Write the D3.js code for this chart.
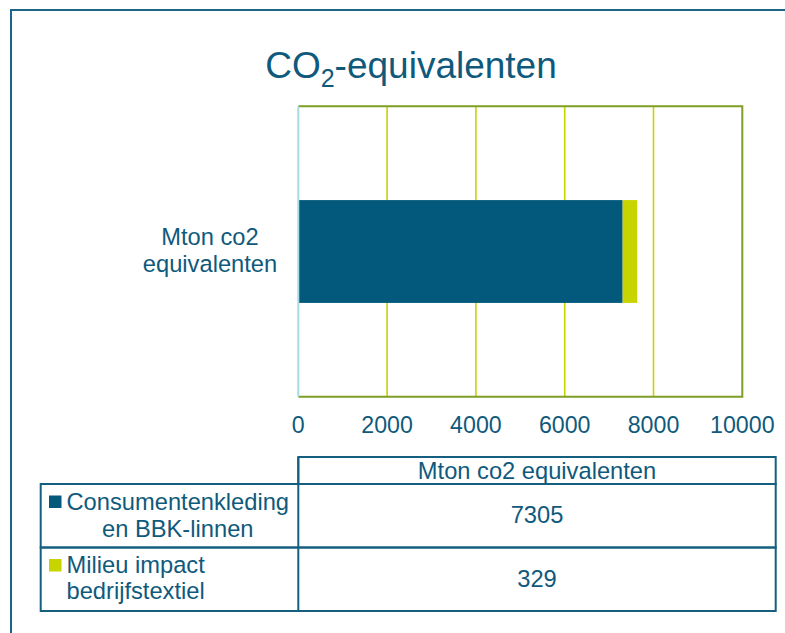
<!DOCTYPE html>
<html>
<head>
<meta charset="utf-8">
<script src="https://cdn.jsdelivr.net/npm/d3@7"></script>
<style>
  html, body { margin: 0; padding: 0; background: #fff; }
  svg { display: block; font-family: "Liberation Sans", Arial, sans-serif; }
</style>
</head>
<body>
<svg id="chart" width="785" height="633"></svg>
<script>
const categories = ["Mton co2 equivalenten"]
const seriesNames = ["Consumentenkleding en BBK-linnen", "Milieu impact bedrijfstextiel"]
const seriesValues = [7305, 329]
const xTicks = [0, 2000, 4000, 6000, 8000, 10000]

const TEXT = "#0f5a7c"
const BLUE = "#02597c"
const YELLOW = "#c8d400"
const FS = 23.7

const svg = d3.select("#chart")

// outer frame (runs off the right and bottom edges)
svg.append("rect")
  .attr("x", 11).attr("y", 10)
  .attr("width", 800).attr("height", 660)
  .attr("fill", "none").attr("stroke", "#1d6586").attr("stroke-width", 2)

// title with subscript
const title = svg.append("text")
  .attr("x", 411).attr("y", 78)
  .attr("text-anchor", "middle")
  .attr("fill", TEXT).attr("font-size", 37)
title.append("tspan").text("CO")
title.append("tspan").attr("font-size", 25).attr("dy", 9).text("2")
title.append("tspan").attr("dy", -9).text("-equivalenten")

const plot = { left: 298.3, right: 742.3, top: 106.3, bottom: 396.7 }

const x = d3.scaleLinear().domain([0, 10000]).range([plot.left, plot.right])
const y = d3.scaleBand().domain(categories).range([plot.top, plot.bottom]).padding(0.477)

// vertical gridlines
svg.append("g")
  .selectAll("line")
  .data(xTicks.filter((t) => t > 0 && t < 10000))
  .join("line")
  .attr("x1", (d) => x(d)).attr("x2", (d) => x(d))
  .attr("y1", plot.top).attr("y2", plot.bottom)
  .attr("stroke", YELLOW).attr("stroke-width", 1.6)

// stacked bar
let acc = 0
const stacks = seriesValues.map((v, i) => {
  const s = { name: seriesNames[i], x0: acc, x1: acc + v, color: i === 0 ? BLUE : YELLOW }
  acc += v
  return s
})
svg.append("g")
  .selectAll("rect")
  .data(stacks)
  .join("rect")
  .attr("x", (d) => x(d.x0))
  .attr("width", (d) => x(d.x1) - x(d.x0))
  .attr("y", y(categories[0]))
  .attr("height", y.bandwidth())
  .attr("fill", (d) => d.color)

// plot border: olive top/right/bottom, light blue left axis
const olive = "#7f9e26"
svg.append("path")
  .attr("d", `M${plot.left},${plot.top}H${plot.right}V${plot.bottom}H${plot.left}`)
  .attr("fill", "none").attr("stroke", olive).attr("stroke-width", 2)
svg.append("line")
  .attr("x1", plot.left).attr("x2", plot.left)
  .attr("y1", plot.top).attr("y2", plot.bottom)
  .attr("stroke", "#a9d9e3").attr("stroke-width", 2)

// x tick labels
svg.append("g")
  .selectAll("text")
  .data(xTicks)
  .join("text")
  .attr("x", (d) => x(d))
  .attr("y", 433)
  .attr("text-anchor", "middle")
  .attr("fill", TEXT).attr("font-size", 23.2)
  .text((d) => d)

// category label, two lines
const cy = y(categories[0]) + y.bandwidth() / 2
const catLabel = svg.append("text")
  .attr("text-anchor", "middle")
  .attr("fill", TEXT).attr("font-size", FS)
catLabel.append("tspan").attr("x", 210).attr("y", cy - 6.5).text("Mton co2")
catLabel.append("tspan").attr("x", 210).attr("y", cy + 20.5).text("equivalenten")

// data table
const tbl = { left: 40.7, mid: 298.3, right: 775.7, headTop: 457, headBottom: 484, rows: [484, 547.5, 611] }
const tableStroke = "#145f80"
const tg = svg.append("g").attr("fill", "none").attr("stroke", tableStroke).attr("stroke-width", 2)
tg.append("rect")
  .attr("x", tbl.mid).attr("y", tbl.headTop)
  .attr("width", tbl.right - tbl.mid).attr("height", tbl.headBottom - tbl.headTop)
tbl.rows.slice(0, -1).forEach((top, i) => {
  tg.append("rect")
    .attr("x", tbl.left).attr("y", top)
    .attr("width", tbl.right - tbl.left).attr("height", tbl.rows[i + 1] - top)
})
tg.append("line")
  .attr("x1", tbl.mid).attr("x2", tbl.mid)
  .attr("y1", tbl.headTop).attr("y2", tbl.rows[tbl.rows.length - 1])

svg.append("text")
  .attr("x", (tbl.mid + tbl.right) / 2).attr("y", 479)
  .attr("text-anchor", "middle")
  .attr("fill", TEXT).attr("font-size", FS)
  .text(categories[0])

const rowLines = [["Consumentenkleding", "en BBK-linnen"], ["Milieu impact", "bedrijfstextiel"]]
const rowBaselines = [[510, 536.5], [573, 598.5]]
const valueBaselines = [523, 587]

stacks.forEach((s, i) => {
  const top = tbl.rows[i]
  // legend key
  svg.append("rect")
    .attr("x", 49).attr("y", top + 11.5)
    .attr("width", 12.5).attr("height", 12.5)
    .attr("fill", s.color)
  // wrapped label, lines centred within the block
  const g = svg.append("g")
  const texts = rowLines[i].map((line, j) =>
    g.append("text")
      .attr("y", rowBaselines[i][j])
      .attr("text-anchor", "middle")
      .attr("fill", TEXT).attr("font-size", FS)
      .text(line)
  )
  const maxW = d3.max(texts, (t) => t.node().getComputedTextLength())
  texts.forEach((t) => t.attr("x", 66.5 + maxW / 2))
  // value
  svg.append("text")
    .attr("x", (tbl.mid + tbl.right) / 2).attr("y", valueBaselines[i])
    .attr("text-anchor", "middle")
    .attr("fill", TEXT).attr("font-size", FS)
    .text(seriesValues[i])
})
</script>
</body>
</html>
